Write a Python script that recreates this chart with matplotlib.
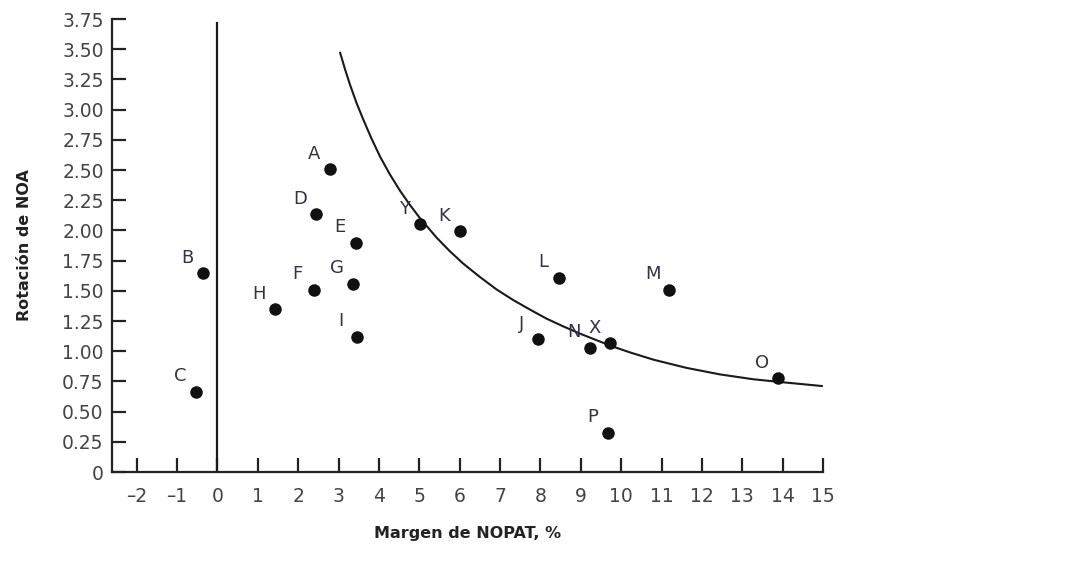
import matplotlib
matplotlib.use("Agg")
import matplotlib.pyplot as plt

# empresas: margen de NOPAT (%) y rotación de NOA
labels = ["A", "B", "C", "D", "E", "F", "G", "H", "I",
          "Y", "K", "L", "M", "J", "N", "X", "O", "P"]
margen = [2.79, -0.35, -0.53, 2.44, 3.43, 2.38, 3.35, 1.43, 3.45,
          5.02, 6.01, 8.46, 11.18, 7.93, 9.23, 9.73, 13.88, 9.68]
rotacion = [2.51, 1.645, 0.665, 2.136, 1.90, 1.51, 1.56, 1.35, 1.12,
            2.05, 1.995, 1.61, 1.51, 1.10, 1.03, 1.065, 0.78, 0.325]

# curva
curva_x = [3.04, 3.16, 3.28, 3.44, 3.61, 3.81, 4.03, 4.27, 4.52, 4.77,
           5.02, 5.43, 5.75, 6.09, 6.5, 6.92, 7.33, 7.74, 8.15, 8.57,
           9.0, 9.40, 9.8, 10.22, 10.80, 11.62, 12.45, 13.27, 13.94, 14.97]
curva_y = [3.47, 3.335, 3.21, 3.06, 2.92, 2.765, 2.61, 2.465, 2.33, 2.21,
           2.10, 1.94, 1.83, 1.725, 1.615, 1.51, 1.423, 1.345, 1.27, 1.205,
           1.143, 1.09, 1.038, 0.99, 0.93, 0.862, 0.808, 0.768, 0.745, 0.712]

xticks = list(range(-2, 16))
yticks = [0, 0.25, 0.5, 0.75, 1.0, 1.25, 1.5, 1.75, 2.0, 2.25, 2.5,
          2.75, 3.0, 3.25, 3.5, 3.75]
ytick_labels = ["0"] + [f"{v:.2f}" for v in yticks[1:]]

fig = plt.figure(figsize=(10.65, 5.63), dpi=100)
ax = fig.add_axes([0.1052, 0.1616, 0.6676, 0.8046])

ax.plot(curva_x, curva_y, color="#1a1a1a", lw=1.5, solid_joinstyle="round")
ax.plot([0, 0], [0, 3.72], color="#1a1a1a", lw=1.6)
ax.plot(margen, rotacion, "o", color="#111111", ms=8, zorder=3)

for lab, x, y in zip(labels, margen, rotacion):
    ax.annotate(lab, (x, y), xytext=(-11.5, 11), textcoords="offset points",
                ha="center", va="center", fontsize=13, color="#333344")

ax.set_xlim(-2.61, 15.0)
ax.set_ylim(0, 3.75)
ax.set_xticks(xticks)
ax.set_xticklabels([str(t).replace("-", "\u2013") for t in xticks])
ax.set_yticks(yticks)
ax.set_yticklabels(ytick_labels)

for s in ["top", "right"]:
    ax.spines[s].set_visible(False)
for s in ["left", "bottom"]:
    ax.spines[s].set_linewidth(1.6)
    ax.spines[s].set_color("#222222")

ax.tick_params(direction="in", length=10, width=1.6, color="#222222",
               labelsize=13.5, labelcolor="#444444")
ax.tick_params(axis="x", pad=11)
ax.tick_params(axis="y", pad=6)

ax.set_xlabel("Margen de NOPAT, %", fontsize=11.5, fontweight="bold",
              color="#222222", labelpad=14)
ax.set_ylabel("Rotación de NOA", fontsize=11.5, fontweight="bold",
              color="#222222", labelpad=22)

fig.savefig("out.png", dpi=100)
